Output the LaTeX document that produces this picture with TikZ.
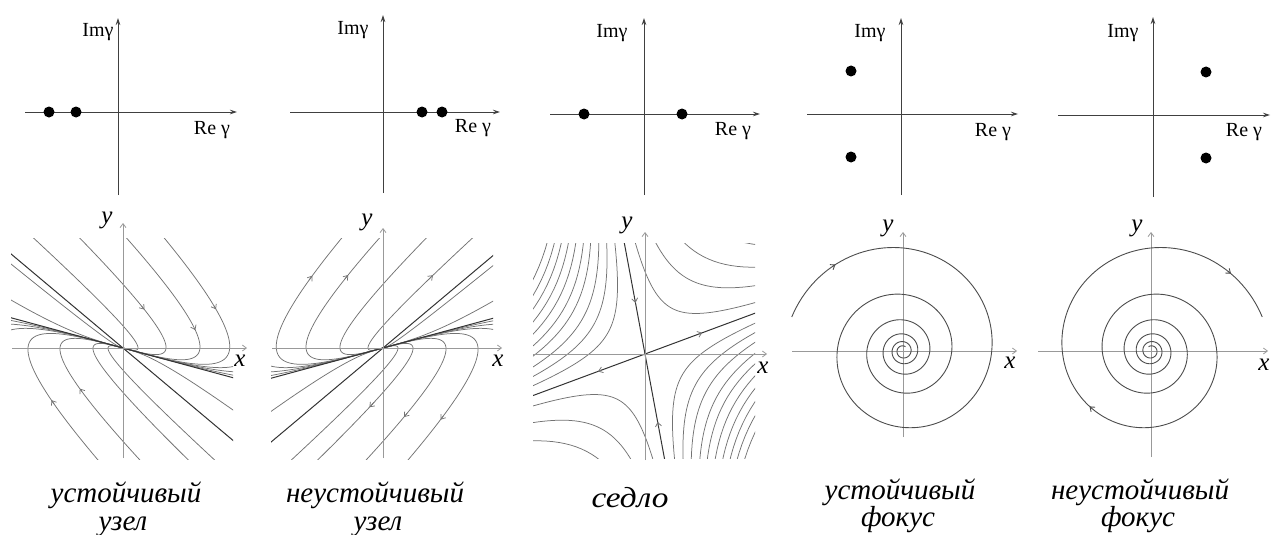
\documentclass[tikz,border=0pt]{standalone}
\usepackage{fontspec}
\setmainfont{Liberation Serif}
\usetikzlibrary{arrows.meta}
\newcommand\nodecurves{%
  \foreach \cc/\ta/\tb in {6.6/0/0.75, 0.8/0/1.45, 0.25/0/2.2, 0.13/0/2.8, 0.09/0/1.4, 0.06/0/1.4, 0.03/0/1.4,
      6.6/-0.75/0, 1.646/-1.1/0, 0.373/-1.8/0, 0.164/-2.4/0, 0.09/-1.4/0, 0.06/-1.4/0, 0.03/-1.4/0,
      -3.74/0/0.7, -170/-0.25/0, -0.59/-1/0}
    {\draw[traj] plot[domain=\ta:\tb, samples=90] ({nx(\x,\cc)},{ny(\x,\cc)});}
  \draw[eig] (-1.2,0.324) -- (1.2,-0.324);
  \draw[eig] (-1.2,1.008) -- (1.2,-1.008);
}
\newcommand\ntip[3]{\draw[arrtip] plot[domain=#1:#2, samples=2] ({nx(\x,#3)},{ny(\x,#3)});}
\newcommand\spiralpath{\draw[spir] plot[domain=163:-1740, samples=700] ({rs(\x)*cos(\x)},{rs(\x)*sin(\x)});}
\newcommand\stip[2]{\draw[stipst] plot[domain=#1:#2, samples=2] ({rs(\x)*cos(\x)},{rs(\x)*sin(\x)});}
\begin{document}
\begin{tikzpicture}[x=1pt, y=1pt,
  declare function={
    nx(\x,\c)=(\x)-(\c)*(\x)*(\x)*(\x);
    ny(\x,\c)=-0.27*(\x)+0.84*(\c)*(\x)*(\x)*(\x);
    hx(\x,\p,\q,\k)=0.938*(\p)*sqrt(\k)*exp(\x)+0.183*(\q)*sqrt(\k)*exp(-(\x));
    hy(\x,\p,\q,\k)=0.348*(\p)*sqrt(\k)*exp(\x)-0.983*(\q)*sqrt(\k)*exp(-(\x));
    rs(\x)=103*exp(0.00166*(\x)-0.1494);
  },
  topaxis/.style={draw=black!75, line width=0.8pt, -{Stealth[length=7pt,width=4.5pt]}},
  rootdot/.style={circle, fill=black, inner sep=0pt, minimum size=11pt},
  cplx/.style={font=\fontsize{20}{20}\selectfont, inner sep=0pt},
  botaxis/.style={draw=black!40, line width=0.8pt, -{Straight Barb[length=4pt,width=6pt]}},
  traj/.style={draw=black!55, line width=0.75pt},
  eig/.style={draw=black!80, line width=1pt},
  arrtip/.style={draw=black!55, line width=0.75pt, -{Straight Barb[length=4pt,width=6pt]}},
  spir/.style={draw=black!70, line width=0.9pt},
  stipst/.style={draw=black!70, line width=0.9pt, -{Straight Barb[length=4pt,width=6pt]}},
  axlab/.style={font=\fontsize{25}{25}\selectfont\itshape, inner sep=0pt},
  captext/.style={font=\fontsize{29}{29}\selectfont\itshape, inner sep=0pt, anchor=base}
]
\useasboundingbox (0,0) rectangle (1272,-535);

% ---------- top row: roots in the complex plane ----------
\coordinate (t1l) at (25,-112); \coordinate (t1r) at (237,-112);
\coordinate (t1b) at (118,-195); \coordinate (t1t) at (118,-18);
\draw[topaxis] (t1l) -- (t1r); \draw[topaxis] (t1b) -- (t1t);
\node[rootdot] (r1a) at (49,-112) {}; \node[rootdot] (r1b) at (76,-112) {};
\node[cplx] (im1) at (98,-32) {Imγ}; \node[cplx] (re1) at (212,-130) {Re γ};

\coordinate (t2l) at (290,-112); \coordinate (t2r) at (500,-112);
\coordinate (t2b) at (383,-193); \coordinate (t2t) at (383,-15);
\draw[topaxis] (t2l) -- (t2r); \draw[topaxis] (t2b) -- (t2t);
\node[rootdot] (r2a) at (422,-112) {}; \node[rootdot] (r2b) at (442,-112) {};
\node[cplx] (im2) at (353,-30) {Imγ}; \node[cplx] (re2) at (473,-128) {Re γ};

\coordinate (t3l) at (550,-114); \coordinate (t3r) at (760,-114);
\coordinate (t3b) at (644,-195); \coordinate (t3t) at (644,-18);
\draw[topaxis] (t3l) -- (t3r); \draw[topaxis] (t3b) -- (t3t);
\node[rootdot] (r3a) at (584,-114) {}; \node[rootdot] (r3b) at (682,-114) {};
\node[cplx] (im3) at (612,-33) {Imγ}; \node[cplx] (re3) at (733,-131) {Re γ};

\coordinate (t4l) at (807,-114); \coordinate (t4r) at (1018,-114);
\coordinate (t4b) at (901,-195); \coordinate (t4t) at (901,-18);
\draw[topaxis] (t4l) -- (t4r); \draw[topaxis] (t4b) -- (t4t);
\node[rootdot] (r4a) at (851,-71) {}; \node[rootdot] (r4b) at (851,-157) {};
\node[cplx] (im4) at (870,-33) {Imγ}; \node[cplx] (re4) at (993,-132) {Re γ};

\coordinate (t5l) at (1058,-115); \coordinate (t5r) at (1270,-115);
\coordinate (t5b) at (1153,-197); \coordinate (t5t) at (1153,-17);
\draw[topaxis] (t5l) -- (t5r); \draw[topaxis] (t5b) -- (t5t);
\node[rootdot] (r5a) at (1206,-72) {}; \node[rootdot] (r5b) at (1206,-158) {};
\node[cplx] (im5) at (1123,-33) {Imγ}; \node[cplx] (re5) at (1244,-132) {Re γ};

% ---------- bottom row: phase portraits ----------
\begin{scope}[shift={(123,-348)}, x=100pt, y=100pt]
  \clip (-1.12,-1.11) rectangle (1.10,1.10);
  \nodecurves
  \ntip{1.01}{0.99}{0.8} \ntip{1.40}{1.38}{0.25} \ntip{2.08}{2.05}{0.13}
  \ntip{-1.37}{-1.35}{0.373} \ntip{-2.0}{-1.97}{0.164}
\end{scope}
\coordinate (b1l) at (12,-348); \coordinate (b1r) at (247,-348);
\coordinate (b1b) at (123,-458); \coordinate (b1t) at (123,-223);
\draw[botaxis] (b1l) -- (b1r); \draw[botaxis] (b1b) -- (b1t);
\node[axlab] (y1) at (107,-220) {y}; \node[axlab] (x1) at (240,-361) {x};

\begin{scope}[shift={(383,-348)}, xscale=-1, x=100pt, y=100pt]
  \clip (-1.10,-1.11) rectangle (1.12,1.10);
  \nodecurves
  \ntip{2.28}{2.31}{0.13} \ntip{1.77}{1.795}{0.25} \ntip{0.53}{0.54}{6.6}
  \ntip{-0.82}{-0.84}{1.646} \ntip{-1.50}{-1.52}{0.373} \ntip{-2.08}{-2.105}{0.164}
\end{scope}
\coordinate (b2l) at (272,-348); \coordinate (b2r) at (502,-348);
\coordinate (b2b) at (383,-458); \coordinate (b2t) at (383,-228);
\draw[botaxis] (b2l) -- (b2r); \draw[botaxis] (b2b) -- (b2t);
\node[axlab] (y2) at (367,-222) {y}; \node[axlab] (x2) at (498,-361) {x};

\begin{scope}[shift={(645,-354)}, x=100pt, y=100pt]
  \clip (-1.12,-1.04) rectangle (1.10,1.11);
  \foreach \kk in {0.11,0.21,0.31,0.42,0.52,0.63,0.74,0.85,0.96,1.08}{
    \draw[traj] plot[domain=-2.6:2.6, samples=90] ({hx(\x,-1,-1,\kk)},{hy(\x,-1,-1,\kk)});
    \draw[traj] plot[domain=-2.6:2.6, samples=90] ({hx(\x,1,1,\kk)},{hy(\x,1,1,\kk)});
  }
  \foreach \kk in {0.12,0.32,0.55,0.85}{
    \draw[traj] plot[domain=-2.6:2.6, samples=90] ({hx(\x,1,-1,\kk)},{hy(\x,1,-1,\kk)});
    \draw[traj] plot[domain=-2.6:2.6, samples=90] ({hx(\x,-1,1,\kk)},{hy(\x,-1,1,\kk)});
  }
  \draw[eig] (-1.2,-0.445) -- (1.2,0.445);
  \draw[eig] (-0.216,1.16) -- (0.216,-1.16);
  \draw[arrtip] ({0.183*-0.56},{-0.983*-0.56}) -- ({0.183*-0.52},{-0.983*-0.52});
  \draw[arrtip] ({0.183*0.73},{-0.983*0.73}) -- ({0.183*0.69},{-0.983*0.69});
  \draw[arrtip] ({0.938*0.57},{0.348*0.57}) -- ({0.938*0.61},{0.348*0.61});
  \draw[arrtip] ({0.938*-0.46},{0.348*-0.46}) -- ({0.938*-0.50},{0.348*-0.50});
\end{scope}
\coordinate (b3l) at (533,-354); \coordinate (b3r) at (767,-354);
\coordinate (b3b) at (645,-460); \coordinate (b3t) at (645,-232);
\draw[botaxis] (b3l) -- (b3r); \draw[botaxis] (b3b) -- (b3t);
\node[axlab] (y3) at (627,-225) {y}; \node[axlab] (x3) at (763,-368) {x};

\coordinate (b4l) at (792,-351); \coordinate (b4r) at (1017,-351);
\coordinate (b4b) at (903,-437); \coordinate (b4t) at (903,-232);
\draw[botaxis] (b4l) -- (b4r); \draw[botaxis] (b4b) -- (b4t);
\begin{scope}[shift={(903,-351)}]
  \spiralpath
  \stip{130}{128}
\end{scope}
\node[axlab] (y4) at (888,-228) {y}; \node[axlab] (x4) at (1010,-363) {x};

\coordinate (b5l) at (1038,-351); \coordinate (b5r) at (1268,-351);
\coordinate (b5b) at (1151,-457); \coordinate (b5t) at (1151,-232);
\draw[botaxis] (b5l) -- (b5r); \draw[botaxis] (b5b) -- (b5t);
\begin{scope}[shift={(1151,-351)}, xscale=-1]
  \spiralpath
  \stip{134}{136}
  \stip{-44}{-42}
\end{scope}
\node[axlab] (y5) at (1137,-228) {y}; \node[axlab] (x5) at (1264,-365) {x};

% ---------- captions ----------
\node[captext] (c1a) at (126,-502) {устойчивый};
\node[captext] (c1b) at (123,-530) {узел};
\node[captext] (c2a) at (375,-502) {неустойчивый};
\node[captext] (c2b) at (378,-530) {узел};
\node[captext] (c3a) at (630,-507) {\scalebox{1.15}[1]{седло}};
\node[captext] (c4a) at (900,-499) {устойчивый};
\node[captext] (c4b) at (898,-526) {фокус};
\node[captext] (c5a) at (1140,-499) {неустойчивый};
\node[captext] (c5b) at (1138,-526) {фокус};
\end{tikzpicture}
\end{document}
